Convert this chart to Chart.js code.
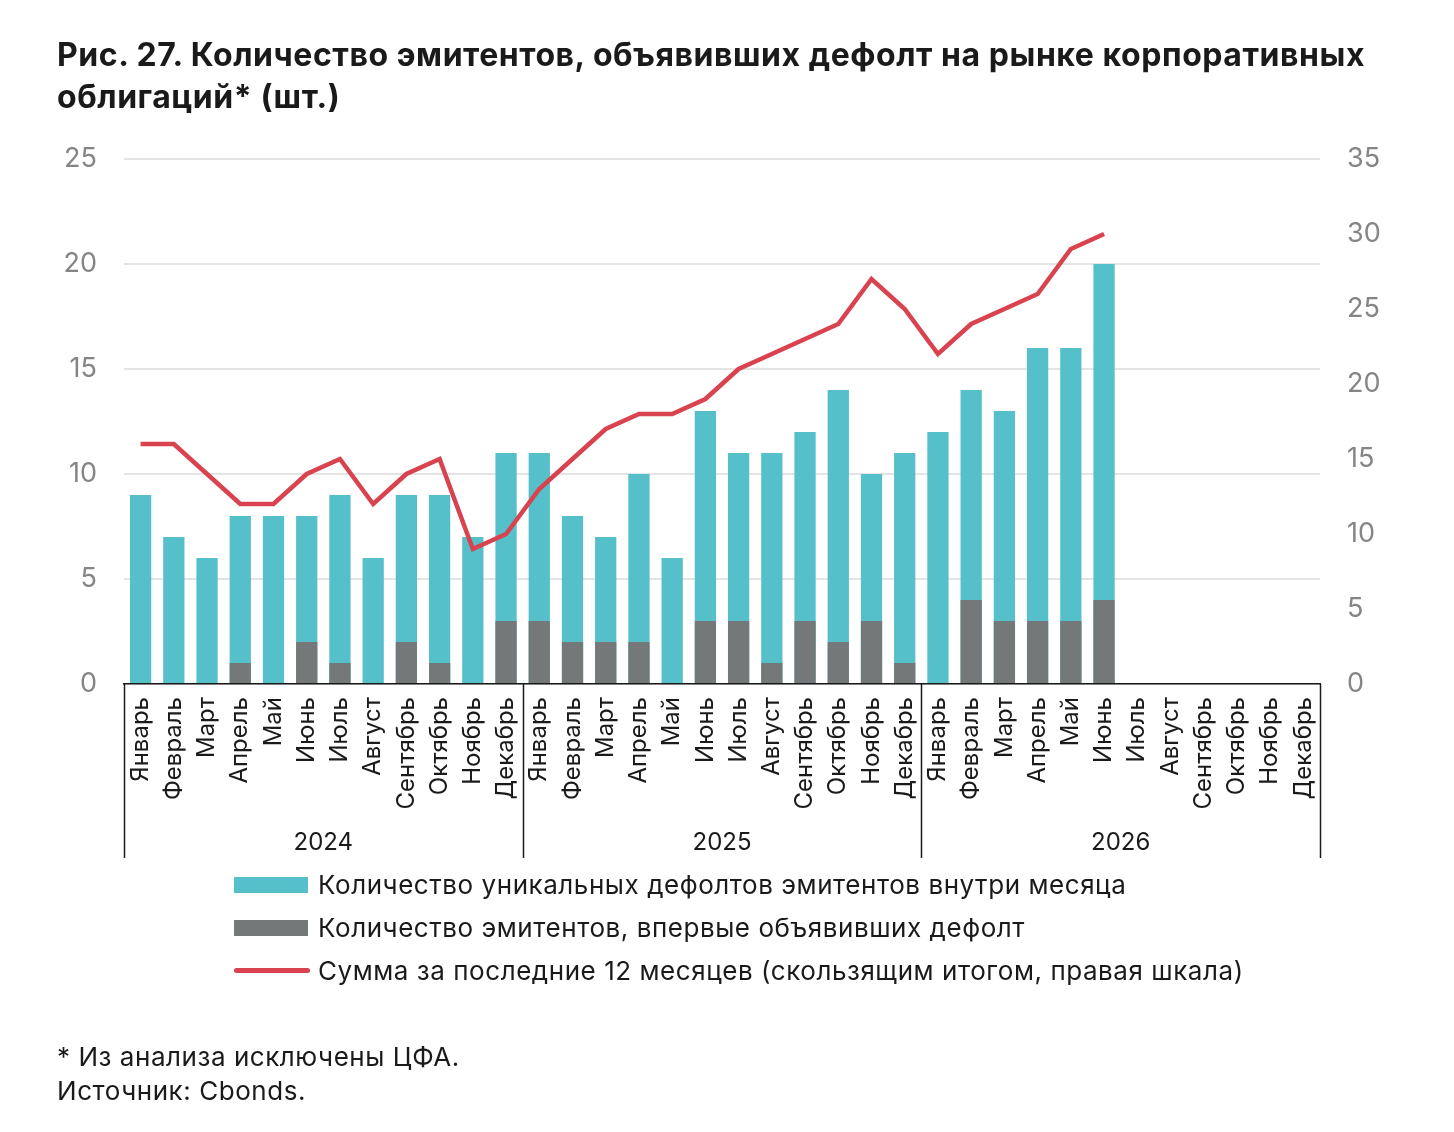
<!DOCTYPE html>
<html><head><meta charset="utf-8">
<script src="https://cdn.jsdelivr.net/npm/chart.js@4.4.1/dist/chart.umd.min.js"></script>
<style>
html,body{margin:0;padding:0;background:#fff;width:1454px;height:1132px;overflow:hidden;font-family:Inter, "Noto Sans", sans-serif;}
#cv{position:absolute;left:0;top:0;}
#title{position:absolute;left:57px;top:34px;font-weight:700;font-size:32px;line-height:42px;color:#1a1a1a;letter-spacing:0.55px;white-space:nowrap;}
.lg{position:absolute;left:234px;height:30px;font-size:26px;line-height:30px;color:#1a1a1a;white-space:nowrap;letter-spacing:0.55px;}
.lg .sw{position:absolute;left:0;top:7px;width:74px;height:16px;}
.lg .ln{position:absolute;left:0;top:12px;width:76px;height:5px;border-radius:3px;background:#d9434f;}
.lg span.t{position:absolute;left:84px;top:0;}
#foot{position:absolute;left:57px;top:1040px;font-size:26px;line-height:34px;color:#1a1a1a;white-space:nowrap;letter-spacing:0.55px;}
</style></head>
<body>
<canvas id="cv" width="1454" height="1132"></canvas>
<div id="title">Рис. 27. Количество эмитентов, объявивших дефолт на рынке корпоративных<br>облигаций* (шт.)</div>
<div class="lg" style="top:870px"><div class="sw" style="background:#55bfca"></div><span class="t">Количество уникальных дефолтов эмитентов внутри месяца</span></div>
<div class="lg" style="top:913px"><div class="sw" style="background:#747878"></div><span class="t">Количество эмитентов, впервые объявивших дефолт</span></div>
<div class="lg" style="top:956px"><div class="ln"></div><span class="t">Сумма за последние 12 месяцев (скользящим итогом, правая шкала)</span></div>
<div id="foot">* Из анализа исключены ЦФА.<br>Источник: Cbonds.</div>
<script>
const months = ["Январь","Февраль","Март","Апрель","Май","Июнь","Июль","Август","Сентябрь","Октябрь","Ноябрь","Декабрь"];
const years = ["2024","2025","2026"];
const categories = [].concat(months, months, months);
const uniqueDefaults = [9,7,6,8,8,8,9,6,9,9,7,11, 11,8,7,10,6,13,11,11,12,14,10,11, 12,14,13,16,16,20,null,null,null,null,null,null];
const firstTimeDefaults = [0,0,0,1,0,2,1,0,2,1,0,3, 3,2,2,2,0,3,3,1,3,2,3,1, 0,4,3,3,3,4,null,null,null,null,null,null];
const rolling12m = [16,16,14,12,12,14,15,12,14,15,9,10, 13,15,17,18,18,19,21,22,23,24,27,25, 22,24,25,26,29,30,null,null,null,null,null,null];
const leftTicks = [0,5,10,15,20,25];
const rightTicks = [0,5,10,15,20,25,30,35];

const FONT = 'Inter, "Noto Sans", sans-serif';

const yearPlugin = {
  id: 'yearGroups',
  afterDraw(chart) {
    const x = chart.scales.x, ctx = chart.ctx, top = chart.chartArea.bottom, bottom = 858;
    const per = months.length;
    ctx.save();
    ctx.strokeStyle = '#1a1a1a';
    ctx.lineWidth = 1.5;
    const edges = [];
    for (let g = 0; g <= years.length; g++) {
      let px;
      if (g === 0) px = x.left;
      else if (g === years.length) px = x.right;
      else px = (x.getPixelForValue(g*per - 1) + x.getPixelForValue(g*per)) / 2;
      edges.push(px);
      ctx.beginPath(); ctx.moveTo(Math.round(px)+0.5, top); ctx.lineTo(Math.round(px)+0.5, bottom); ctx.stroke();
    }
    ctx.fillStyle = '#1a1a1a';
    ctx.font = '24px ' + FONT;
    ctx.textAlign = 'center'; ctx.textBaseline = 'middle';
    for (let g = 0; g < years.length; g++) {
      ctx.fillText(years[g], (edges[g] + edges[g+1]) / 2, 843);
    }
    ctx.restore();
  }
};

new Chart(document.getElementById('cv'), {
  data: {
    labels: categories,
    datasets: [
      { type: 'line', label: 'Сумма за последние 12 месяцев', data: rolling12m, yAxisID: 'y2', order: 0,
        borderColor: '#d9434f', borderWidth: 4.5, pointRadius: 0, tension: 0, spanGaps: false, borderJoinStyle: 'miter' },
      { type: 'bar', label: 'Количество эмитентов, впервые объявивших дефолт', data: firstTimeDefaults, yAxisID: 'y', order: 1,
        backgroundColor: '#747878', grouped: false, barPercentage: 0.64, categoryPercentage: 1 },
      { type: 'bar', label: 'Количество уникальных дефолтов', data: uniqueDefaults, yAxisID: 'y', order: 2,
        backgroundColor: '#55bfca', grouped: false, barPercentage: 0.64, categoryPercentage: 1 }
    ]
  },
  options: {
    responsive: false, animation: false,
    layout: { padding: { top: 159, bottom: 274, left: 0, right: 0 } },
    plugins: { legend: { display: false }, tooltip: { enabled: false }, title: { display: false } },
    scales: {
      x: {
        grid: { display: false, drawTicks: false },
        border: { display: true, color: '#1a1a1a', width: 1.5 },
        ticks: { autoSkip: false, maxRotation: 90, minRotation: 90, padding: 13, color: '#1a1a1a', font: { family: FONT, size: 24 } },
        afterFit(s) { s.height = 174; }
      },
      y: {
        position: 'left', min: 0, max: 25,
        afterBuildTicks(s) { s.ticks = leftTicks.map(v => ({ value: v })); },
        grid: { color: '#e4e4e4', lineWidth: 2, drawTicks: false },
        border: { display: false },
        ticks: { padding: 27, color: '#858585', font: { family: FONT, size: 27 } },
        afterFit(s) { s.width = 124; }
      },
      y2: {
        position: 'right', min: 0, max: 35,
        afterBuildTicks(s) { s.ticks = rightTicks.map(v => ({ value: v })); },
        grid: { display: false, drawTicks: false },
        border: { display: false },
        ticks: { padding: 27, color: '#858585', font: { family: FONT, size: 27 } },
        afterFit(s) { s.width = 134; }
      }
    }
  },
  plugins: [yearPlugin]
});
</script>
</body></html>
